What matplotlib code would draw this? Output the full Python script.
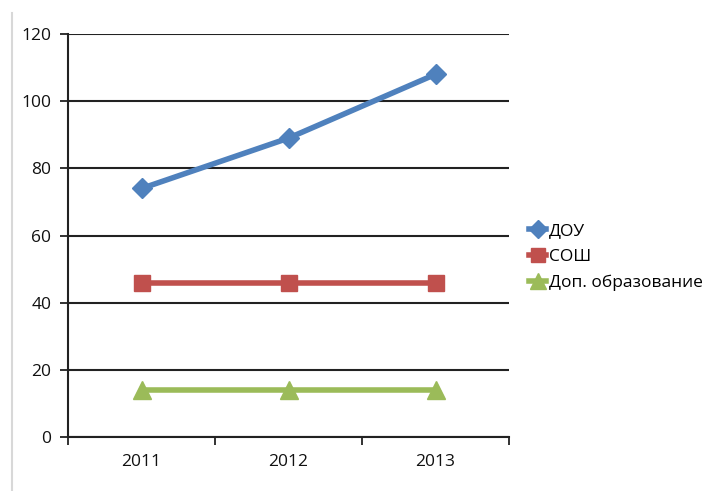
import matplotlib
matplotlib.use("Agg")
import matplotlib.pyplot as plt
from matplotlib.lines import Line2D

years = ["2011", "2012", "2013"]
dou = [74, 89, 108]
sosh = [46, 46, 46]
dop = [14, 14, 14]
labels = ["ДОУ", "СОШ", "Доп. образование"]
yticks = [0, 20, 40, 60, 80, 100, 120]

plt.rcParams['font.family'] = ['Open Sans', 'DejaVu Sans']

fig = plt.figure(figsize=(7.12, 4.91), dpi=100)
ax = fig.add_axes([68/712, 1-437/491, (509-68)/712, (437-34)/491])

x = [0.5, 1.5, 2.5]
ax.plot(x, dou, color='#4F81BD', lw=4, marker='D', ms=10, label=labels[0])
ax.plot(x, sosh, color='#C0504D', lw=4, marker='s', ms=12, label=labels[1])
ax.plot(x, dop, color='#9BBB59', lw=4, marker='^', ms=13, label=labels[2])

ax.set_xlim(0, 3)
ax.set_ylim(0, 120)
ax.set_yticks(yticks)
ax.set_xticks([0.5, 1.5, 2.5])
ax.set_xticklabels(years)
ax.set_xticks([0, 1, 2, 3], minor=True)
ax.tick_params(axis='x', which='major', length=0, pad=12, labelsize=12.5, labelcolor='#111111')
ax.tick_params(axis='x', which='minor', length=6, width=1.3, direction='out', color='#222222')
ax.tick_params(axis='y', length=6, width=1.3, direction='out', color='#222222', labelsize=12.5,
               pad=6, labelcolor='#111111')
ax.grid(axis='y', color='#222222', lw=1.5)
ax.set_axisbelow(True)
for s in ['top', 'right']:
    ax.spines[s].set_visible(False)
for s in ['left', 'bottom']:
    ax.spines[s].set_color('#222222')
    ax.spines[s].set_linewidth(1.5)

handles = [
    Line2D([], [], color='#4F81BD', lw=4, marker='D', ms=9),
    Line2D([], [], color='#C0504D', lw=4, marker='s', ms=10),
    Line2D([], [], color='#9BBB59', lw=4, marker='^', ms=11),
]
fig.legend(handles, labels, loc='center left', bbox_to_anchor=(522/712, 1-257/491),
           frameon=False, handlelength=1.0, handletextpad=0.15,
           labelspacing=0.55, borderaxespad=0, prop={'size': 12.5})

fig.add_artist(Line2D([12/712, 12/712], [0, 1-13/491], color='#d8d8d8', lw=1.5))

fig.savefig("out.png", dpi=100)
